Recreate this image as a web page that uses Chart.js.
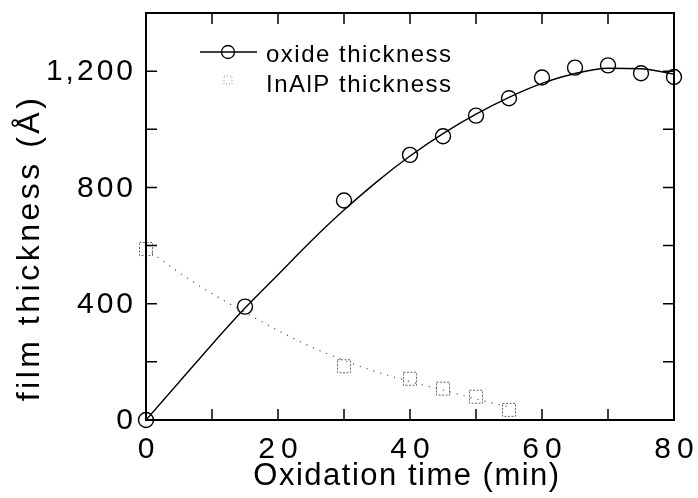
<!DOCTYPE html>
<html>
<head>
<meta charset="utf-8">
<script src="https://cdn.jsdelivr.net/npm/chart.js@4/dist/chart.umd.min.js"></script>
<style>
  body { margin: 0; background: #fff; }
  canvas { display: block; }
</style>
</head>
<body>
<canvas id="grafico" width="698" height="498"></canvas>
<script>
// pontos medidos (min, Å)
const oxideTimes = [0, 15, 30, 40, 45, 50, 55, 60, 65, 70, 75, 80]
const oxideValues = [0, 390, 755, 912, 976, 1047, 1107, 1178, 1212, 1220, 1193, 1180]
const inalpTimes = [0, 30, 40, 45, 50, 55]
const inalpValues = [588, 185, 142, 108, 80, 35]
// curvas de ajuste
const oxideFitTimes = [0, 5, 10, 15, 20, 25, 30, 35, 40, 45, 50, 55, 60, 65, 70, 75, 80]
const oxideFitValues = [0, 130, 260, 385, 500, 615, 722, 820, 908, 985, 1052, 1110, 1158, 1192, 1210, 1208, 1190]
const inalpFitTimes = [0, 5, 10, 15, 20, 25, 30, 35, 40, 45, 50, 55]
const inalpFitValues = [590, 507, 435, 370, 308, 252, 205, 165, 132, 103, 72, 45]
const legendLabels = ["oxide thickness", "InAlP thickness"]
const xTitle = "Oxidation time (min)"
const yTitle = "film thickness (Å)"

const fonte = "'Liberation Sans', Arial, Helvetica, sans-serif"

function pares(xs, ys) { //junta x e y em pontos
    return xs.map((x, i) => ({x: x, y: ys[i]}))
}

function quadradoPontilhado(lado) { //marcador quadrado com borda pontilhada
    let c = document.createElement('canvas')
    c.width = lado + 2
    c.height = lado + 2
    let g = c.getContext('2d')
    g.strokeStyle = '#666'
    g.lineWidth = 1
    g.setLineDash([2, 1.5])
    g.strokeRect(1.5, 1.5, lado - 1, lado - 1)
    return c
}

const moldura = { //moldura, ticks para dentro, rotulos, legenda e titulos
    id: 'moldura',
    afterDraw(chart) {
        const ctx = chart.ctx
        const a = chart.chartArea
        const sx = chart.scales.x
        const sy = chart.scales.y
        ctx.save()
        ctx.strokeStyle = '#000'
        ctx.lineWidth = 2
        ctx.strokeRect(a.left, a.top, a.right - a.left, a.bottom - a.top)
        ctx.lineWidth = 1.5
        ctx.beginPath()
        for (let t of sx.ticks) {
            let px = sx.getPixelForValue(t.value)
            if (t.value <= sx.min || t.value >= sx.max) continue
            ctx.moveTo(px, a.bottom); ctx.lineTo(px, a.bottom - 11)
            ctx.moveTo(px, a.top); ctx.lineTo(px, a.top + 11)
        }
        for (let t of sy.ticks) {
            let py = sy.getPixelForValue(t.value)
            if (t.value <= sy.min || t.value >= sy.max) continue
            ctx.moveTo(a.left, py); ctx.lineTo(a.left + 11, py)
            ctx.moveTo(a.right, py); ctx.lineTo(a.right - 11, py)
        }
        ctx.stroke()

        // rotulos dos ticks
        ctx.fillStyle = '#000'
        ctx.font = '30px ' + fonte
        ctx.letterSpacing = '6px'
        ctx.textAlign = 'center'
        ctx.textBaseline = 'alphabetic'
        for (let t of sx.ticks) {
            if (t.value % 20 != 0) continue
            ctx.fillText(String(t.value), sx.getPixelForValue(t.value) + 3, 458)
        }
        ctx.font = '30px ' + fonte
        ctx.letterSpacing = '3px'
        ctx.textAlign = 'right'
        ctx.textBaseline = 'middle'
        for (let t of sy.ticks) {
            if (t.value % 400 != 0) continue
            ctx.fillText(t.value.toLocaleString('en-US'), 136, sy.getPixelForValue(t.value) + 1)
        }

        // titulo eixo x
        ctx.font = '31px ' + fonte
        ctx.letterSpacing = '1.5px'
        ctx.textAlign = 'center'
        ctx.textBaseline = 'alphabetic'
        ctx.fillText(xTitle, 407, 485)

        // legenda
        ctx.letterSpacing = '0px'
        ctx.strokeStyle = '#000'
        ctx.lineWidth = 1.3
        ctx.beginPath()
        ctx.moveTo(200, 52); ctx.lineTo(257, 52)
        ctx.stroke()
        ctx.beginPath()
        ctx.arc(228, 52, 6.5, 0, Math.PI * 2)
        ctx.stroke()
        ctx.strokeStyle = '#999'
        ctx.lineWidth = 1
        ctx.setLineDash([1, 2])
        ctx.strokeRect(224, 76, 8, 8)
        ctx.setLineDash([])
        ctx.font = '24px ' + fonte
        ctx.letterSpacing = '1.5px'
        ctx.textAlign = 'left'
        ctx.fillText(legendLabels[0], 266, 62)
        ctx.fillText(legendLabels[1], 266, 92)

        // titulo eixo y
        ctx.translate(30, 248)
        ctx.rotate(-Math.PI / 2)
        ctx.textAlign = 'center'
        ctx.textBaseline = 'middle'
        ctx.font = '32px ' + fonte
        ctx.letterSpacing = '3.5px'
        ctx.fillText(yTitle, 0, 0)
        ctx.restore()
    }
}

new Chart(document.getElementById('grafico'), {
    type: 'scatter',
    data: {
        datasets: [
            {
                label: 'oxide fit',
                data: pares(oxideFitTimes, oxideFitValues),
                showLine: true,
                borderColor: '#000',
                borderWidth: 1.4,
                pointRadius: 0,
                cubicInterpolationMode: 'monotone',
                fill: false
            },
            {
                label: 'InAlP fit',
                data: pares(inalpFitTimes, inalpFitValues),
                showLine: true,
                borderColor: '#555',
                borderWidth: 1.2,
                borderDash: [1.2, 6],
                pointRadius: 0,
                cubicInterpolationMode: 'monotone',
                fill: false
            },
            {
                label: legendLabels[0],
                data: pares(oxideTimes, oxideValues),
                showLine: false,
                clip: false,
                pointStyle: 'circle',
                pointRadius: 7.5,
                pointBorderWidth: 1.4,
                pointBorderColor: '#000',
                pointBackgroundColor: 'rgba(0,0,0,0)'
            },
            {
                label: legendLabels[1],
                data: pares(inalpTimes, inalpValues),
                showLine: false,
                clip: false,
                pointStyle: quadradoPontilhado(14),
                pointRadius: 8
            }
        ]
    },
    options: {
        responsive: false,
        animation: false,
        layout: { padding: { top: 13, right: 24, left: 0, bottom: 0 } },
        plugins: { legend: { display: false }, tooltip: { enabled: false } },
        scales: {
            x: {
                type: 'linear',
                min: 0,
                max: 80,
                grid: { display: false, drawTicks: false },
                border: { display: false },
                ticks: { stepSize: 10, display: false },
                afterFit: s => { s.height = 78 }
            },
            y: {
                min: 0,
                max: 1400,
                grid: { display: false, drawTicks: false },
                border: { display: false },
                ticks: { stepSize: 200, display: false },
                afterFit: s => { s.width = 146 }
            }
        }
    },
    plugins: [moldura]
})
</script>
</body>
</html>
